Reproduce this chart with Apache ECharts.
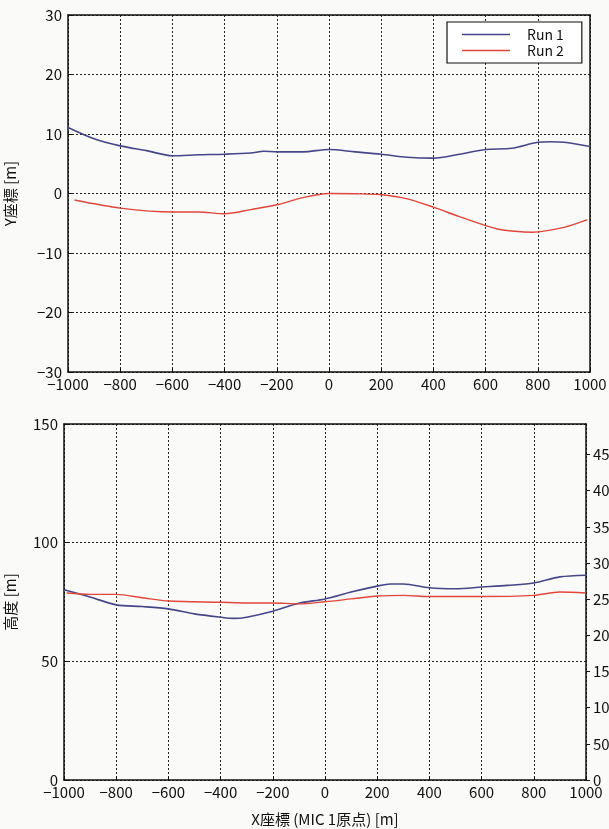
<!DOCTYPE html>
<html>
<head>
<meta charset="utf-8">
<script src="https://cdn.jsdelivr.net/npm/echarts@6/dist/echarts.min.js"></script>
<style>
  html, body { margin: 0; padding: 0; background: #fafaf8; }
  #chart { width: 609px; height: 829px; }
</style>
</head>
<body>
<div id="chart"></div>
<script>
// top panel: Y coordinate
var topRun1X = [-1000, -900, -800, -700, -600, -500, -400, -300, -250, -200, -100, 0, 100, 200, 300, 400, 500, 600, 700, 800, 850, 900, 1000];
var topRun1Y = [11.1, 9.2, 8.0, 7.2, 6.35, 6.5, 6.6, 6.8, 7.1, 7.0, 7.0, 7.4, 7.0, 6.6, 6.1, 5.95, 6.6, 7.4, 7.6, 8.6, 8.7, 8.6, 7.9];
var topRun2X = [-975, -800, -600, -500, -400, -300, -200, -100, 0, 100, 200, 300, 400, 500, 600, 650, 700, 780, 900, 990];
var topRun2Y = [-1.1, -2.45, -3.1, -3.1, -3.4, -2.7, -1.9, -0.7, 0, -0.05, -0.2, -0.9, -2.3, -3.9, -5.4, -6.0, -6.3, -6.5, -5.7, -4.4];

// bottom panel: height
var botRun1X = [-1000, -900, -800, -700, -600, -500, -400, -350, -300, -200, -100, 0, 100, 200, 250, 300, 400, 500, 600, 700, 800, 900, 1000];
var botRun1Y = [80.2, 77.1, 73.8, 73.1, 72.1, 70.0, 68.6, 68.1, 68.6, 71.1, 74.5, 76.3, 79.2, 81.7, 82.6, 82.6, 81.0, 80.6, 81.3, 82.0, 83.0, 85.6, 86.3];
var botRun2X = [-990, -900, -800, -700, -600, -400, -300, -200, -100, 0, 100, 200, 300, 400, 600, 800, 900, 1000];
var botRun2Y = [78.8, 78.2, 78.2, 76.8, 75.4, 74.9, 74.6, 74.6, 74.2, 75.1, 76.3, 77.5, 77.8, 77.3, 77.3, 77.8, 79.2, 78.8];

var seriesNames = ['Run 1', 'Run 2'];
var colors = ['#47468a', '#e0463a'];

function pairs(xs, ys) {
  var out = [];
  for (var i = 0; i < xs.length; i++) out.push([xs[i], ys[i]]);
  return out;
}
function fmt(v) {
  return v < 0 ? '\u2212' + Math.abs(v) : String(Math.round(v));
}

var font = '"Noto Sans CJK JP", "Noto Sans", sans-serif';
var frame = { show: true, onZero: false, lineStyle: { color: '#111', width: 1.5 } };
var grid = { show: true, lineStyle: { color: '#222', type: [2, 2], width: 1 } };
var tick = { show: true, inside: true, length: 4, lineStyle: { color: '#111' } };
var tickLabel = { color: '#111', fontSize: 15, fontFamily: font, formatter: fmt };

function xMain(idx, name) {
  return {
    type: 'value', gridIndex: idx, min: -1000, max: 1000, interval: 200,
    axisLine: frame, axisTick: tick,
    splitLine: grid,
    axisLabel: Object.assign({ margin: 5 }, tickLabel),
    name: name, nameLocation: 'middle', nameGap: 32,
    nameTextStyle: { color: '#111', fontSize: 15, fontFamily: font }
  };
}
function xTop(idx) {
  return {
    type: 'value', gridIndex: idx, position: 'top', min: -1000, max: 1000,
    axisLine: frame, axisTick: { show: false }, axisLabel: { show: false }, splitLine: { show: false }
  };
}

var option = {
  backgroundColor: '#fafaf8',
  animation: false,
  grid: [
    { left: 68, right: 19, top: 15, height: 357, containLabel: false, outerBoundsMode: 'none' },
    { left: 64, right: 23, top: 424, height: 356, containLabel: false, outerBoundsMode: 'none' }
  ],
  legend: {
    data: seriesNames,
    orient: 'vertical',
    left: 447, top: 22,
    icon: 'rect',
    itemWidth: 48, itemHeight: 1.5, itemGap: 1,
    padding: [5, 18, 5, 15],
    borderColor: '#111', borderWidth: 1.2,
    backgroundColor: '#fff',
    textStyle: { color: '#111', fontSize: 14, lineHeight: 15, fontFamily: font, padding: [0, 0, 0, 12] }
  },
  xAxis: [
    xMain(0, ''),
    xTop(0),
    xMain(1, 'X座標 (MIC 1原点) [m]'),
    xTop(1)
  ],
  yAxis: [
    {
      type: 'value', gridIndex: 0, min: -30, max: 30, interval: 10,
      axisLine: frame, axisTick: tick, splitLine: grid,
      axisLabel: Object.assign({ margin: 6 }, tickLabel),
      name: 'Y座標 [m]', nameLocation: 'middle', nameGap: 50,
      nameTextStyle: { color: '#111', fontSize: 15, fontFamily: font }
    },
    {
      type: 'value', gridIndex: 0, position: 'right', min: -30, max: 30,
      axisLine: frame, axisTick: { show: false }, axisLabel: { show: false }, splitLine: { show: false }
    },
    {
      type: 'value', gridIndex: 1, min: 0, max: 150, interval: 50,
      axisLine: frame, axisTick: tick, splitLine: grid,
      axisLabel: Object.assign({ margin: 6 }, tickLabel),
      name: '高度 [m]', nameLocation: 'middle', nameGap: 46,
      nameTextStyle: { color: '#111', fontSize: 15, fontFamily: font }
    },
    {
      type: 'value', gridIndex: 1, position: 'right', min: 0, max: 150 * 3.28084, interval: 50,
      axisLine: frame,
      axisTick: { show: true, inside: false, length: 4, lineStyle: { color: '#111' } },
      axisLabel: Object.assign({ margin: 7, showMaxLabel: false }, tickLabel),
      splitLine: { show: false }
    }
  ],
  series: [
    { name: seriesNames[0], type: 'line', xAxisIndex: 0, yAxisIndex: 0, data: pairs(topRun1X, topRun1Y),
      symbol: 'none', smooth: 0.3, lineStyle: { color: colors[0], width: 1.6 }, itemStyle: { color: colors[0] } },
    { name: seriesNames[1], type: 'line', xAxisIndex: 0, yAxisIndex: 0, data: pairs(topRun2X, topRun2Y),
      symbol: 'none', smooth: 0.3, lineStyle: { color: colors[1], width: 1.4 }, itemStyle: { color: colors[1] } },
    { name: seriesNames[0], type: 'line', xAxisIndex: 2, yAxisIndex: 2, data: pairs(botRun1X, botRun1Y),
      symbol: 'none', smooth: 0.3, lineStyle: { color: colors[0], width: 1.6 }, itemStyle: { color: colors[0] } },
    { name: seriesNames[1], type: 'line', xAxisIndex: 2, yAxisIndex: 2, data: pairs(botRun2X, botRun2Y),
      symbol: 'none', smooth: 0.3, lineStyle: { color: colors[1], width: 1.4 }, itemStyle: { color: colors[1] } }
  ]
};

var chart = echarts.init(document.getElementById('chart'));
chart.setOption(option);
</script>
</body>
</html>
